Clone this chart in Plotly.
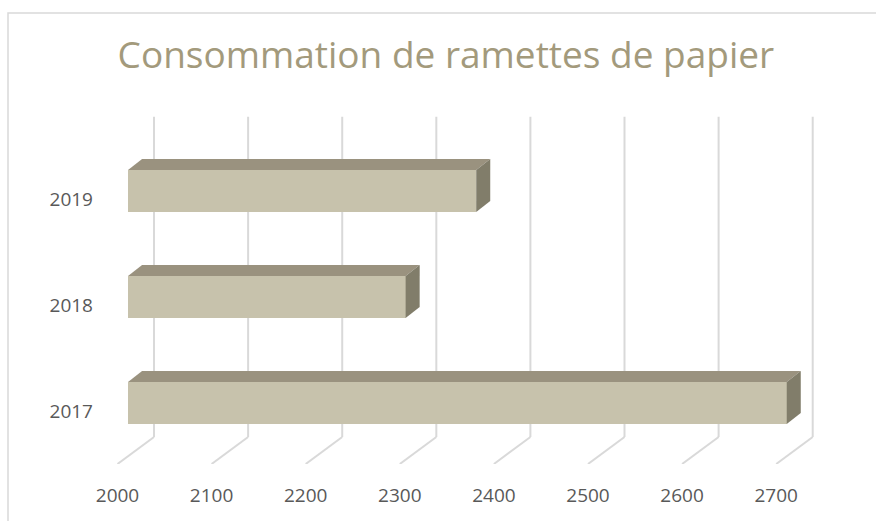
import plotly.graph_objects as go

# data
years = ["2017", "2018", "2019"]
ramettes = [2700, 2295, 2370]
x_ticks = [2000, 2100, 2200, 2300, 2400, 2500, 2600, 2700]

# fake 3D depth (in axis units)
wall_dx, wall_dy = 38.8, 0.255      # floor front -> back wall
front_dx, front_dy = 11.2, 0.074    # floor front -> bar front face
bar_dx, bar_dy = 14.9, 0.104        # bar thickness (depth)
bar_h = 0.396
base = 2000

front_col = "#C7C2AC"
top_col = "#9A927F"
side_col = "#817D6A"
grid_col = "#D9D9D9"

fig = go.Figure()

# bars: front face
idx = list(range(len(years)))
fig.add_trace(go.Bar(
    y=[i + front_dy for i in idx], x=[v - base for v in ramettes],
    base=base + front_dx, orientation="h", width=bar_h,
    marker=dict(color=front_col, line=dict(width=0)),
    showlegend=False, hovertext=years))

# top and side faces
for i, v in zip(idx, ramettes):
    yt = i + front_dy + bar_h / 2
    yb = i + front_dy - bar_h / 2
    x0 = base + front_dx
    x1 = v + front_dx
    fig.add_trace(go.Scatter(
        x=[x0, x1, x1 + bar_dx, x0 + bar_dx, x0],
        y=[yt, yt, yt + bar_dy, yt + bar_dy, yt],
        fill="toself", fillcolor=top_col, mode="lines",
        line=dict(width=0, color=top_col), hoverinfo="skip", showlegend=False))
    fig.add_trace(go.Scatter(
        x=[x1, x1 + bar_dx, x1 + bar_dx, x1, x1],
        y=[yb, yb + bar_dy, yt + bar_dy, yt, yb],
        fill="toself", fillcolor=side_col, mode="lines",
        line=dict(width=0, color=side_col), hoverinfo="skip", showlegend=False))

W, H = 876, 521
ml, mr, mt, mb = 100, 46, 114, 57
pw, ph = W - ml - mr, H - mt - mb

# back wall gridlines + floor diagonals, kept under the bars
shapes = []
for v in x_ticks:
    shapes.append(dict(type="line", xref="x", yref="y", layer="below",
                       x0=v + wall_dx, x1=v + wall_dx, y0=-0.5 + wall_dy, y1=2.774,
                       line=dict(color=grid_col, width=2)))
    shapes.append(dict(type="line", xref="x", yref="y", layer="below",
                       x0=v, x1=v + wall_dx, y0=-0.5, y1=-0.5 + wall_dy,
                       line=dict(color=grid_col, width=2)))
# chart border
shapes.append(dict(type="rect", xref="paper", yref="paper",
                   x0=(8 - ml) / pw, x1=(W + 10 - ml) / pw,
                   y0=-(mb + 10) / ph, y1=(H - 13 - mb) / ph,
                   line=dict(color="#D9D9D9", width=1.5), layer="below"))

fig.update_layout(
    width=W, height=H,
    margin=dict(l=ml, r=mr, t=mt, b=mb),
    paper_bgcolor="white", plot_bgcolor="white",
    font=dict(family="Open Sans", color="#595959"),
    title=dict(text="Consommation de ramettes de papier",
               x=0.509, xanchor="center", y=1 - 55 / H, yanchor="middle",
               font=dict(size=37, color="#A39A7C", family="Open Sans")),
    xaxis=dict(range=[2000 - 17.5 / 0.941, 2000 + 712.5 / 0.941],
               tickvals=x_ticks, showgrid=False, zeroline=False,
               showline=False, ticks="", ticklabelstandoff=18,
               tickfont=dict(size=19, color="#595959")),
    yaxis=dict(range=[-0.5, 2.8], tickvals=idx, ticktext=years,
               showgrid=False, zeroline=False, showline=False, ticks="",
               ticklabelstandoff=6,
               tickfont=dict(size=19, color="#595959")),
    bargap=0,
    shapes=shapes,
)

fig.write_html("out.html", config={"displayModeBar": False},
               post_script="document.body.style.margin='0';")
